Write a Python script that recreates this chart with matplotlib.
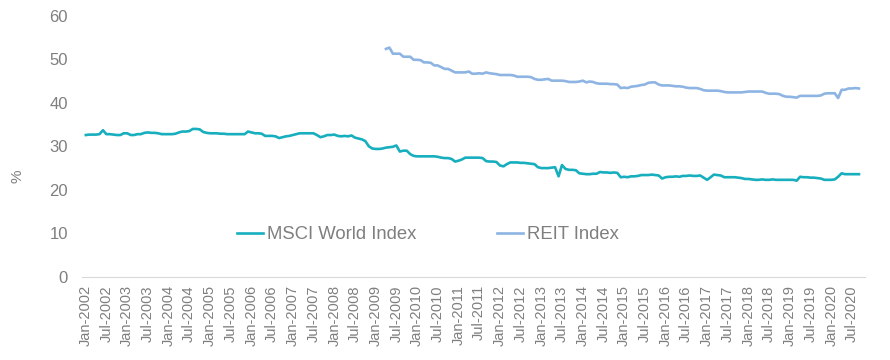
import numpy as np
import pandas as pd
import matplotlib
matplotlib.use("Agg")
import matplotlib.pyplot as plt
import matplotlib.dates as mdates

plt.rcParams['font.family'] = ['Liberation Sans', 'DejaVu Sans']

# monthly values, Jan-2002 .. Sep-2020
msci_by_year = {
    2002: [32.6, 32.7, 32.7, 32.7, 32.8, 33.7, 32.8, 32.8, 32.7, 32.6, 32.6, 33.0],
    2003: [33.0, 32.6, 32.6, 32.8, 32.8, 33.1, 33.2, 33.1, 33.1, 33.0, 32.8, 32.8],
    2004: [32.8, 32.8, 32.9, 33.2, 33.4, 33.4, 33.5, 34.0, 34.0, 33.9, 33.3, 33.1],
    2005: [33.0, 33.0, 33.0, 32.9, 32.9, 32.8, 32.8, 32.8, 32.8, 32.8, 32.8, 33.4],
    2006: [33.2, 33.0, 33.0, 32.9, 32.4, 32.4, 32.4, 32.3, 31.9, 32.1, 32.3, 32.4],
    2007: [32.6, 32.8, 33.0, 33.0, 33.0, 33.0, 33.0, 32.6, 32.1, 32.3, 32.6, 32.6],
    2008: [32.7, 32.4, 32.3, 32.4, 32.3, 32.5, 32.0, 31.8, 31.6, 31.2, 30.0, 29.5],
    2009: [29.4, 29.4, 29.5, 29.7, 29.8, 29.9, 30.2, 28.8, 29.0, 29.0, 28.2, 27.8],
    2010: [27.7, 27.7, 27.7, 27.7, 27.7, 27.7, 27.6, 27.4, 27.3, 27.3, 27.1, 26.5],
    2011: [26.7, 27.0, 27.4, 27.4, 27.4, 27.4, 27.4, 27.3, 26.6, 26.5, 26.5, 26.4],
    2012: [25.6, 25.4, 25.9, 26.3, 26.3, 26.3, 26.2, 26.2, 26.1, 26.0, 25.9, 25.2],
    2013: [25.0, 25.0, 25.0, 25.1, 25.2, 23.1, 25.7, 24.8, 24.6, 24.6, 24.5, 23.8],
    2014: [23.7, 23.6, 23.6, 23.7, 23.7, 24.1, 24.0, 24.0, 23.9, 24.0, 23.9, 22.9],
    2015: [23.0, 22.9, 23.1, 23.1, 23.2, 23.4, 23.4, 23.4, 23.5, 23.4, 23.3, 22.6],
    2016: [22.9, 23.0, 23.0, 23.1, 23.0, 23.2, 23.2, 23.3, 23.2, 23.2, 23.3, 22.8],
    2017: [22.3, 22.9, 23.5, 23.4, 23.3, 22.9, 22.9, 22.9, 22.9, 22.8, 22.7, 22.5],
    2018: [22.5, 22.4, 22.3, 22.3, 22.4, 22.3, 22.3, 22.4, 22.3, 22.3, 22.3, 22.3],
    2019: [22.3, 22.3, 22.1, 23.0, 22.9, 22.9, 22.8, 22.8, 22.7, 22.6, 22.3, 22.3],
    2020: [22.3, 22.4, 23.0, 23.8, 23.6, 23.6, 23.6, 23.6, 23.6],
}

# REIT index starts Apr-2009
reit_by_year = {
    2009: [52.4, 52.7, 51.3, 51.3, 51.3, 50.6, 50.6, 50.6, 49.9],
    2010: [49.9, 49.8, 49.3, 49.3, 49.2, 48.6, 48.6, 48.2, 47.8, 47.8, 47.4, 47.0],
    2011: [47.0, 47.0, 47.0, 47.2, 46.7, 46.7, 46.8, 46.7, 47.0, 46.8, 46.7, 46.6],
    2012: [46.4, 46.4, 46.4, 46.4, 46.3, 46.0, 46.0, 46.0, 46.0, 45.9, 45.5, 45.3],
    2013: [45.3, 45.4, 45.5, 45.1, 45.1, 45.1, 45.1, 45.0, 44.8, 44.8, 44.8, 44.9],
    2014: [45.1, 44.7, 44.9, 44.8, 44.5, 44.4, 44.4, 44.4, 44.3, 44.3, 44.2, 43.4],
    2015: [43.5, 43.4, 43.7, 43.8, 43.9, 44.1, 44.2, 44.6, 44.7, 44.7, 44.2, 44.0],
    2016: [44.0, 44.0, 43.9, 43.8, 43.8, 43.7, 43.5, 43.4, 43.4, 43.4, 43.2, 42.9],
    2017: [42.8, 42.8, 42.8, 42.8, 42.7, 42.5, 42.4, 42.4, 42.4, 42.4, 42.4, 42.5],
    2018: [42.6, 42.6, 42.6, 42.6, 42.6, 42.3, 42.1, 42.1, 42.1, 42.0, 41.6, 41.4],
    2019: [41.4, 41.3, 41.2, 41.6, 41.6, 41.6, 41.6, 41.6, 41.6, 41.7, 42.1, 42.2],
    2020: [42.2, 42.2, 41.1, 43.0, 43.0, 43.3, 43.3, 43.4, 43.3],
}

msci = np.concatenate([msci_by_year[y] for y in sorted(msci_by_year)])
reit = np.concatenate([reit_by_year[y] for y in sorted(reit_by_year)])
msci_dates = pd.date_range("2002-01-01", periods=len(msci), freq="MS")
reit_dates = pd.date_range("2009-04-01", periods=len(reit), freq="MS")

grey = "#7f7f7f"
fig = plt.figure(figsize=(8.9, 3.6), dpi=100)
ax = fig.add_axes([0.092, 0.231, 0.88, 0.725])

ax.plot(msci_dates, msci, color="#17AEBE", lw=1.9, label="MSCI World Index")
ax.plot(reit_dates, reit, color="#8DB4E2", lw=1.9, label="REIT Index")

ax.set_ylim(0, 60)
ax.set_yticks(range(0, 61, 10))
ax.set_xlim(pd.Timestamp("2001-12-01") - pd.Timedelta(days=4), pd.Timestamp("2020-10-25"))
ax.xaxis.set_major_locator(mdates.MonthLocator(bymonth=[1, 7]))
ax.xaxis.set_major_formatter(mdates.DateFormatter("%b-%Y"))
plt.setp(ax.get_xticklabels(), rotation=90)

ax.tick_params(axis="x", length=0, labelsize=10.5, labelcolor=grey, pad=6)
ax.tick_params(axis="y", length=0, labelsize=12, labelcolor=grey, pad=10)
for s in ["top", "right", "left"]:
    ax.spines[s].set_visible(False)
ax.spines["bottom"].set_color("#d9d9d9")

ax.set_ylabel("%", color=grey, fontsize=11)
ax.yaxis.set_label_coords(-0.073, 0.387)

ax.legend(loc="center", bbox_to_anchor=(0.442, 0.161), ncol=2, frameon=False,
          fontsize=13.3, labelcolor=grey, handlelength=1.4, handletextpad=0.2,
          columnspacing=4.4)

fig.savefig("out.png", dpi=100)
